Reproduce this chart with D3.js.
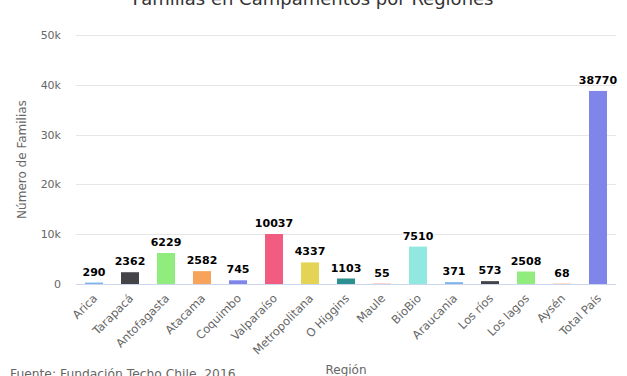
<!DOCTYPE html>
<html><head><meta charset="utf-8">
<script src="https://cdn.jsdelivr.net/npm/d3@7"></script>
<style>body{margin:0;background:#fff}svg{display:block}</style>
</head><body>
<script>
const categories = ["Arica","Tarapacá","Antofagasta","Atacama","Coquimbo","Valparaíso","Metropolitana","O Higgins","Maule","BioBio","Araucania","Los ríos","Los lagos","Aysén","Total País"];
const values = [290,2362,6229,2582,745,10037,4337,1103,55,7510,371,573,2508,68,38770];
const colors = ["#7cb5ec","#434348","#90ed7d","#f7a35c","#8085e9","#f15c80","#e4d354","#2b908f","#f45b5b","#91e8e1","#7cb5ec","#434348","#90ed7d","#f7a35c","#8085e9"];
const yTicks = [0,10000,20000,30000,40000,50000];
const yTickLabels = ["0","10k","20k","30k","40k","50k"];
const titleText = "Familias en Campamentos por Regiones";
const yTitle = "Número de Familias";
const xTitle = "Región";
const credit = "Fuente: Fundación Techo Chile, 2016";

const W = 627, H = 376;
const m = {left:76, right:11, top:35, bottom:92};
const svg = d3.select("body").append("svg").attr("width",W).attr("height",H)
  .style("font-family","'DejaVu Sans', sans-serif");

const x = d3.scaleBand().domain(categories).range([m.left, W-m.right]).paddingInner(0.5).paddingOuter(0.25);
const y = d3.scaleLinear().domain([0,50000]).range([H-m.bottom, m.top]);

// gridlines
svg.append("g").selectAll("line").data(yTicks.slice(1)).join("line")
  .attr("x1",m.left).attr("x2",W-m.right)
  .attr("y1",d=>Math.round(y(d))+0.5).attr("y2",d=>Math.round(y(d))+0.5)
  .attr("stroke","#e6e6e6").attr("stroke-width",1);

// y labels
svg.append("g").selectAll("text").data(yTicks).join("text")
  .attr("x",m.left-15).attr("y",d=>y(d)+4)
  .attr("text-anchor","end").attr("font-size",11).attr("fill","#666")
  .text((d,i)=>yTickLabels[i]);

// bars
svg.append("g").selectAll("rect").data(values).join("rect")
  .attr("x",(d,i)=>x(categories[i]))
  .attr("width",x.bandwidth())
  .attr("y",d=>y(d))
  .attr("height",d=>y(0)-y(d))
  .attr("fill",(d,i)=>colors[i]);

// x axis line
svg.append("line").attr("x1",m.left).attr("x2",W-m.right)
  .attr("y1",Math.round(y(0))+0.5).attr("y2",Math.round(y(0))+0.5)
  .attr("stroke","#ccd6eb");

// data labels
svg.append("g").selectAll("text").data(values).join("text")
  .attr("x",(d,i)=>x(categories[i])+x.bandwidth()/2)
  .attr("y",d=>y(d)-7)
  .attr("text-anchor","middle").attr("font-size",11).attr("font-weight","bold")
  .attr("fill","#000").attr("stroke","#fff").attr("stroke-width",2).attr("paint-order","stroke")
  .text(d=>d);

// x labels
svg.append("g").selectAll("text").data(categories).join("text")
  .attr("transform",d=>`translate(${x(d)+x.bandwidth()/2+4},${y(0)+15}) rotate(-45)`)
  .attr("text-anchor","end").attr("font-size",11.5).attr("fill","#666")
  .text(d=>d);

// titles
svg.append("text").attr("x",313).attr("y",5).attr("text-anchor","middle")
  .attr("font-size",18).attr("fill","#333").text(titleText);
svg.append("text").attr("transform",`translate(26,${(y(0)+y(50000))/2}) rotate(-90)`)
  .attr("text-anchor","middle").attr("font-size",12).attr("fill","#666").text(yTitle);
svg.append("text").attr("x",(m.left+W-m.right)/2).attr("y",374).attr("text-anchor","middle")
  .attr("font-size",12).attr("fill","#666").text(xTitle);
svg.append("text").attr("x",10).attr("y",378).attr("font-size",12.3).attr("fill","#666").text(credit);
</script>
</body></html>
